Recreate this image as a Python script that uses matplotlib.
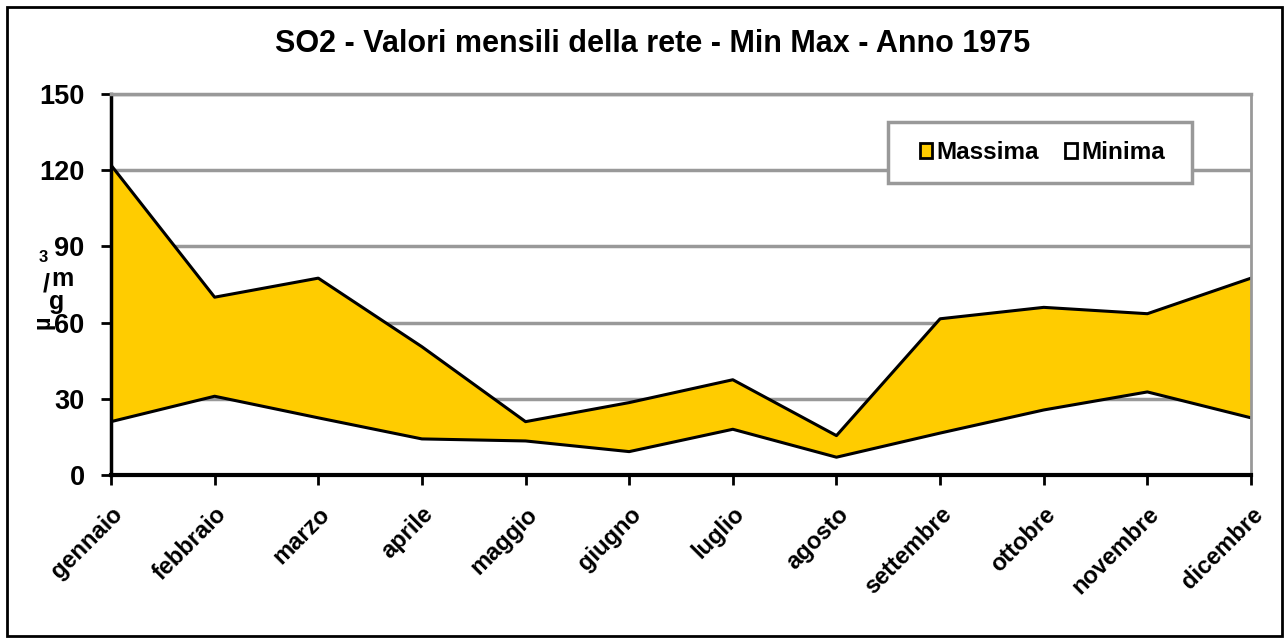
import matplotlib
matplotlib.use('Agg')
import matplotlib.pyplot as plt
from matplotlib.patches import Patch, Rectangle

plt.rcParams['font.family'] = ['Liberation Sans', 'DejaVu Sans']

# ---- DATA ----
mesi = ['gennaio', 'febbraio', 'marzo', 'aprile', 'maggio', 'giugno',
        'luglio', 'agosto', 'settembre', 'ottobre', 'novembre', 'dicembre']
massima = [122, 70, 77.5, 50.5, 21, 28.5, 37.5, 15.5, 61.5, 66, 63.5, 77.5]
minima = [21, 31, 22.5, 14.2, 13.4, 9.2, 18, 7, 16.5, 25.6, 32.7, 22.5]
y_ticks = [0, 30, 60, 90, 120, 150]

YELLOW = '#FFCC00'
GREY = '#999999'

fig = plt.figure(figsize=(12.86, 6.43), dpi=100)
ax = fig.add_axes([0.0863, 0.2613, 0.8865, 0.5925])

x = list(range(len(mesi)))

# stacked area look: white under min, yellow between min and max
ax.fill_between(x, minima, massima, color=YELLOW, lw=0, zorder=2)
ax.plot(x, massima, color='black', lw=2.2, zorder=3)
ax.plot(x, minima, color='black', lw=2.2, zorder=3)

ax.set_xlim(0, 11)
ax.set_ylim(0, 150)
ax.set_yticks(y_ticks)
ax.set_yticklabels([str(v) for v in y_ticks], fontsize=19.5, fontweight='bold')
ax.set_xticks(x)
ax.set_xticklabels(mesi, rotation=45, ha='right', va='top',
                   rotation_mode='anchor', fontsize=17, fontweight='bold')

ax.grid(axis='y', color=GREY, lw=2.5, zorder=1)
ax.tick_params(axis='both', direction='out', length=7, width=2, color='black')
ax.tick_params(axis='y', pad=12)
ax.tick_params(axis='x', pad=13)

ax.spines['left'].set_color('black')
ax.spines['left'].set_linewidth(2.5)
ax.spines['bottom'].set_color('black')
ax.spines['bottom'].set_linewidth(3)
ax.spines['right'].set_color(GREY)
ax.spines['right'].set_linewidth(2)
ax.spines['top'].set_color(GREY)
ax.spines['top'].set_linewidth(2.5)
for s in ax.spines.values():
    s.set_zorder(4)

# legend box drawn by hand (wider than tall, like the original)
ax.add_patch(Rectangle((0.6816, 0.7664), 0.2667, 0.1601, transform=ax.transAxes,
                       facecolor='white', edgecolor=GREY, lw=2.5, zorder=5,
                       clip_on=False))
handles = [Patch(facecolor=YELLOW, edgecolor='black', lw=2, label='Massima'),
           Patch(facecolor='white', edgecolor='black', lw=2, label='Minima')]
leg = ax.legend(handles=handles, ncol=2, loc='center',
                bbox_to_anchor=(0.817, 0.8465), frameon=False,
                prop={'size': 17.5, 'weight': 'bold'}, handlelength=0.5,
                handleheight=0.6, handletextpad=0.15, columnspacing=1.1,
                borderpad=0)
leg.set_zorder(6)

# title
fig.text(0.5075, 0.931, 'SO2 - Valori mensili della rete - Min Max - Anno 1975',
         ha='center', va='center', fontsize=22, fontweight='bold')

# y label, drawn as stacked glyphs like the original
W, H = 1286, 643
def ft(px, py, s, size, rot=0):
    fig.text(px / W, 1 - py / H, s, ha='center', va='center',
             fontsize=size, fontweight='bold', rotation=rot)

ft(43, 257, '3', 12)
ft(62, 279, 'm', 18)
ft(46, 285, '/', 18)
ft(57, 302, 'g', 18)
ft(43, 322, 'µ', 17, 90)

# outer border
fig.patches.append(Rectangle((7 / W, 1 - 636 / H), 1275 / W, 629 / H,
                             transform=fig.transFigure, fill=False,
                             edgecolor='black', lw=2))

fig.savefig('out.png', dpi=100)
